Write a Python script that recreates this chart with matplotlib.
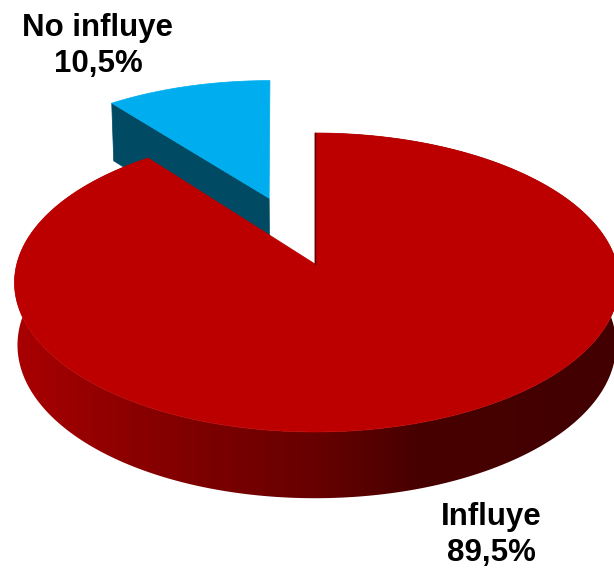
import matplotlib
matplotlib.use("Agg")
import matplotlib.pyplot as plt
import matplotlib.colors as mcolors
from matplotlib.patches import Polygon
import numpy as np

labels = ["Influye", "No influye"]
values = [89.5, 10.5]

plt.rcParams['font.family'] = ['Liberation Sans', 'DejaVu Sans']

# perspective of the disc, in pixels
apex_x, apex_y = 315, 264
rad_x, rad_y = 300, 147.2
persp = 0.1237
depth = 62
explode = 0.5
lean = 4


def project(x, y, low=False):
    s = 1 / (1 + persp * y)
    px = apex_x + rad_x * (0.99 if low else 1) * x * s * (1 + 0.006 * x)
    py = apex_y - rad_y * y * s + (depth * s ** 0.5 if low else 0)
    return px, py


def slice_xy(start, end, off=0.0):
    # angles in degrees, clockwise from the top of the disc
    t = np.radians(np.linspace(start, end, 300))
    mid = np.radians((start + end) / 2)
    return np.sin(t) + off * np.sin(mid), np.cos(t) + off * np.cos(mid), off * np.sin(mid), off * np.cos(mid)


def gradient_wall(ax, poly, xs, cols):
    cmap = mcolors.LinearSegmentedColormap.from_list("wall", list(zip(xs, cols)))
    im = ax.imshow(np.linspace(0, 1, 614).reshape(1, -1), extent=(0, 614, 570, 0), aspect='auto',
                   cmap=cmap, vmin=0, vmax=1, interpolation='bilinear', zorder=3)
    patch = Polygon(poly, closed=True, transform=ax.transData, fc='none', ec='none')
    ax.add_patch(patch)
    im.set_clip_path(patch)


fig = plt.figure(figsize=(6.14, 5.70), dpi=100)
ax = fig.add_axes([0, 0, 1, 1])

big_end = values[0] / sum(values) * 360
small_start = big_end
small_end = 360.0

# exploded small slice
x, y, ax0, ay0 = slice_xy(small_start, small_end, explode)
tx, ty = project(x, y)
bx, by = project(x, y, low=True)
tx = tx - lean * (y - ay0)
bx = bx - lean * (y - ay0)
cx, cy = project(ax0, ay0)
cbx, cby = project(ax0, ay0, low=True)
side = np.array([[tx[0], ty[0]], [cx, cy], [cbx, cby], [bx[0], by[0]]])
ax.add_patch(Polygon(side, closed=True, fc="#004A63", ec="#004A63", lw=0.5, zorder=1))
ax.add_patch(Polygon(np.column_stack([np.r_[cx, tx], np.r_[cy, ty]]), closed=True,
                     fc="#00AEEF", ec="#00AEEF", lw=0.5, zorder=2))

# main slice
x, y, ax0, ay0 = slice_xy(0, big_end)
tx, ty = project(x, y)
bx, by = project(x, y, low=True)
wall = np.column_stack([np.r_[tx, bx[::-1]], np.r_[ty, by[::-1]]])
gradient_wall(ax, wall, [0, 0.03, 0.22, 0.52, 0.68, 1],
              ["#A80000", "#A80000", "#8A0000", "#660000", "#480000", "#420000"])
ax.add_patch(Polygon(np.column_stack([np.r_[apex_x, tx], np.r_[apex_y, ty]]), closed=True,
                     fc="#BC0000", ec="#BC0000", lw=0.5, zorder=4))
# thin cut face on the edge of the notch
ax.plot([tx[0] - 0.5, apex_x - 0.5], [ty[0], apex_y], color="#5A0000", lw=1, zorder=5)

ax.text(491, 535, f"{labels[0]}\n{values[0]:.1f}%".replace(".", ","), ha='center', va='center',
        fontsize=22.5, fontweight='bold', color='black', linespacing=1.22, zorder=6)
ax.text(98, 46, f"{labels[1]}\n{values[1]:.1f}%".replace(".", ","), ha='center', va='center',
        fontsize=22.5, fontweight='bold', color='black', linespacing=1.22, zorder=6)

ax.set_xlim(0, 614)
ax.set_ylim(570, 0)
ax.axis('off')

fig.savefig("out.png", dpi=100, facecolor='white')
